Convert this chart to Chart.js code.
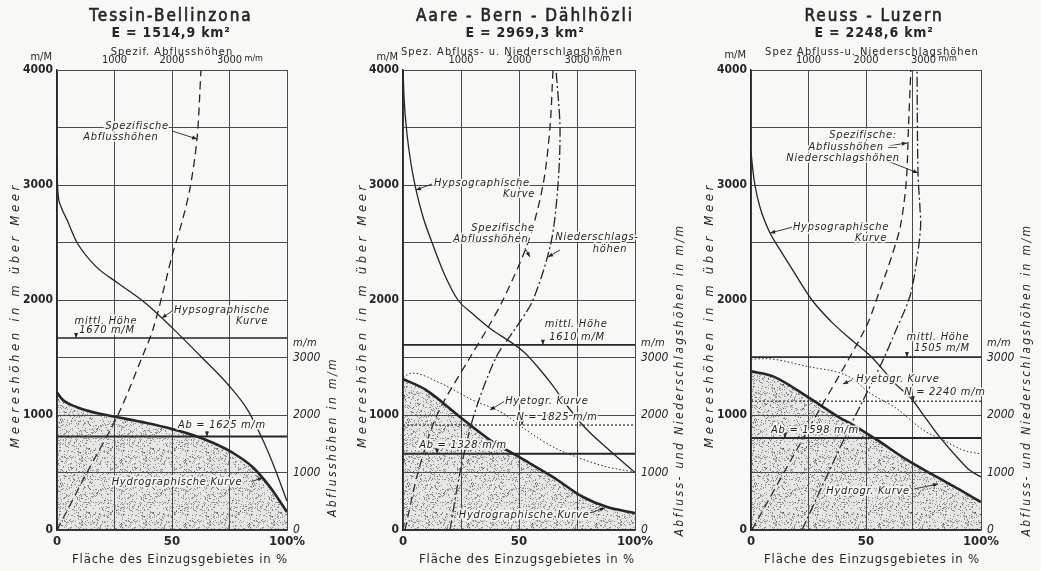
<!DOCTYPE html>
<html>
<head>
<meta charset="utf-8">
<script src="https://cdn.jsdelivr.net/npm/chart.js@4.4.1/dist/chart.umd.min.js"></script>
<style>
  html, body { margin: 0; padding: 0; background: #f8f8f6; }
  #wrap { position: relative; width: 1041px; height: 571px; }
  canvas { position: absolute; top: 0; }
</style>
</head>
<body>
<div id="wrap">
  <canvas id="tessin" width="347" height="571" style="left:0px"></canvas>
  <canvas id="aare" width="347" height="571" style="left:347px"></canvas>
  <canvas id="reuss" width="347" height="571" style="left:694px"></canvas>
</div>
<script>
// ---- Tessin-Bellinzona ----
// hypsographische Kurve: Fläche in % / Höhe in m
const tessinHypsoPct = [0, 0.15, 0.6, 1.6, 4.3, 8.7, 17, 27, 38, 50, 62, 75, 83, 90, 95, 100];
const tessinHypsoM = [3250, 3050, 2900, 2820, 2700, 2500, 2290, 2140, 1980, 1760, 1520, 1250, 1040, 760, 520, 250];
// hydrographische Kurve: Fläche in % / Abflusshöhe in mm
const tessinHydroPct = [0, 2.6, 8.7, 18.7, 27, 39, 50, 59, 68, 76.5, 85, 92.6, 100];
const tessinHydroMm = [2392, 2260, 2136, 2020, 1956, 1860, 1756, 1652, 1512, 1340, 1096, 748, 314];
// spezifische Abflusshöhen: mm / Höhe in m
const tessinSpezMm = [0, 522, 1060, 1478, 1670, 1870, 2000, 2174, 2313, 2435, 2504];
const tessinSpezM = [0, 500, 1000, 1500, 1747, 2120, 2384, 2680, 2970, 3400, 4000];
const tessinMittl = 1670;
const tessinAb = 1625;

// ---- Aare-Bern-Dählhölzli ----
const aareHypsoPct = [0, 0.5, 1.7, 3.5, 5.6, 8.5, 12.5, 17.5, 23.7, 30, 38, 46, 52, 58, 64, 70, 78, 88, 100];
const aareHypsoM = [4000, 3740, 3450, 3180, 2960, 2730, 2500, 2240, 2000, 1880, 1745, 1640, 1550, 1420, 1270, 1100, 900, 710, 500];
const aareHydroPct = [0, 10, 24.6, 37.5, 50, 64.7, 77.6, 88, 100];
const aareHydroMm = [2626, 2434, 1966, 1566, 1270, 920, 574, 400, 296];
const aareHyetoPct = [0, 3.9, 16, 30, 43, 53, 64.7, 76, 88, 100];
const aareHyetoMm = [2654, 2730, 2556, 2260, 2034, 1740, 1444, 1252, 1096, 1008];
const aareSpezMm = [34, 259, 586, 1155, 1450, 1724, 2155, 2414, 2534, 2586];
const aareSpezM = [0, 500, 1000, 1500, 1747, 2000, 2500, 3000, 3500, 4000];
const aareNiedMm = [810, 983, 1224, 1603, 1931, 2241, 2552, 2672, 2707, 2638];
const aareNiedM = [0, 500, 1000, 1500, 1747, 2000, 2500, 3000, 3500, 4000];
const aareMittl = 1610;
const aareAb = 1328;
const aareN = 1825;

// ---- Reuss-Luzern ----
const reussHypsoPct = [0, 0.4, 1.7, 4, 8, 12.5, 17, 26.5, 35, 43, 52.6, 63, 70, 76.5, 82, 89.5, 95, 100];
const reussHypsoM = [3300, 3205, 3000, 2800, 2594, 2440, 2297, 2000, 1810, 1665, 1500, 1266, 1135, 957, 809, 635, 522, 461];
const reussHydroPct = [0, 9.6, 25, 38.7, 43, 54.8, 67.8, 80.8, 90.9, 100];
const reussHydroMm = [2760, 2672, 2306, 1950, 1860, 1566, 1218, 922, 696, 486];
const reussHyetoPct = [0, 6, 24, 43, 51.7, 63, 74.8, 83.5, 92, 100];
const reussHyetoMm = [2970, 2980, 2848, 2660, 2382, 2122, 1740, 1566, 1392, 1322];
const reussSpezMm = [15, 1000, 1983, 2230, 2450, 2600, 2700, 2740, 2780];
const reussSpezM = [0, 880, 1747, 2070, 2384, 2646, 3031, 3520, 4000];
const reussNiedMm = [887, 1426, 1722, 2017, 2278, 2530, 2765, 2887, 2950, 2939, 2904, 2887];
const reussNiedM = [0, 585, 900, 1196, 1458, 1747, 2035, 2358, 2646, 2795, 3110, 4000];
const reussMittl = 1505;
const reussAb = 1598;
const reussN = 2240;

// x grid of the Reuss sheet: the third line is drawn at about 70 %
const reussGridPct = [0, 25, 50, 70, 100];

const ink = '#262626';
const paperColor = 'rgba(248,248,246,0.9)';
const F = "'Liberation Sans Narrow', 'DejaVu Sans Condensed', 'Liberation Sans', sans-serif";

// punktierte Fläche unter der hydrographischen Kurve
function stipple() {
  const c = document.createElement('canvas');
  c.width = c.height = 64;
  const g = c.getContext('2d');
  g.fillStyle = 'rgba(110,110,110,0.13)';
  g.fillRect(0, 0, 64, 64);
  let s = 12345;
  const rnd = () => (s = (s * 16807) % 2147483647) / 2147483647;
  g.fillStyle = 'rgba(40,40,40,0.45)';
  for (let i = 0; i < 750; i++) g.fillRect(Math.floor(rnd() * 64), Math.floor(rnd() * 64), 1, 1);
  return g.createPattern(c, 'repeat');
}
const dots = stipple();

function line(xs, ys, xAxisID, yAxisID, style) {
  return Object.assign({
    data: xs.map((x, i) => ({ x: x, y: ys[i] })),
    xAxisID: xAxisID, yAxisID: yAxisID,
    borderColor: ink, borderWidth: 1.3, pointRadius: 0, fill: false, tension: 0.3
  }, style || {});
}
const hypso = (xs, ys) => line(xs, ys, 'x', 'y', { borderWidth: 1.3, cubicInterpolationMode: 'monotone' });
const hydro = (xs, ys) => line(xs, ys, 'x', 'y2', { borderWidth: 2.6, fill: 'origin', backgroundColor: dots, cubicInterpolationMode: 'monotone' });
const hyeto = (xs, ys) => line(xs, ys, 'x', 'y2', { borderWidth: 1, borderDash: [1.5, 2.2], cubicInterpolationMode: 'monotone' });
const spez = (xs, ys) => line(xs, ys, 'x2', 'y', { borderDash: [8, 5] });
const nied = (xs, ys) => line(xs, ys, 'x2', 'y', { borderDash: [10, 3, 2, 3] });
const level = (v, axis, style) => line([0, 100], [v, v], 'x', axis, Object.assign({ tension: 0 }, style));

function arrow(ctx, x1, y1, x2, y2) {
  ctx.beginPath(); ctx.moveTo(x1, y1); ctx.lineTo(x2, y2); ctx.lineWidth = 0.9; ctx.stroke();
  const a = Math.atan2(y2 - y1, x2 - x1), L = 5, W = 2;
  ctx.beginPath();
  ctx.moveTo(x2, y2);
  ctx.lineTo(x2 - L * Math.cos(a) + W * Math.sin(a), y2 - L * Math.sin(a) - W * Math.cos(a));
  ctx.lineTo(x2 - L * Math.cos(a) - W * Math.sin(a), y2 - L * Math.sin(a) + W * Math.cos(a));
  ctx.closePath(); ctx.fill();
}

// Beschriftung: Titel, Achsentitel und Hinweise
const paper = {
  id: 'paper',
  afterDraw(chart, args, o) {
    const { ctx, chartArea: a, scales: s } = chart;
    const px = v => s.x.getPixelForValue(v), py = v => s.y.getPixelForValue(v);
    const txt = (t, x, y, font, align, sp, halo) => {
      ctx.font = font; ctx.letterSpacing = sp || '0px';
      ctx.textAlign = align || 'center'; ctx.textBaseline = 'middle';
      if (halo) {
        ctx.save(); ctx.strokeStyle = paperColor; ctx.lineWidth = 3.5; ctx.lineJoin = 'round';
        ctx.strokeText(t, x, y); ctx.restore();
      }
      ctx.fillText(t, x, y);
    };
    ctx.save();
    ctx.fillStyle = ink; ctx.strokeStyle = ink;
    // title: regular face, slightly thickened like the pen lettering
    txt(o.title, o.cx, 17, '17px ' + F, 'center', '2px');
    ctx.lineWidth = 0.6; ctx.strokeText(o.title, o.cx, 17);
    txt(o.sub, o.cx, 33, 'bold 14px ' + F, 'center', '0.8px');
    txt(o.top, o.topX, 52, '11px ' + F, 'center', '1px');
    txt('m/M', a.left - 5, o.mY, '11px ' + F, 'right');
    txt('m/m', s.x2.getPixelForValue(3000) + 15, 59, '9px ' + F, 'left');
    txt('m/m', a.right + 6, py(1626), 'italic 11px ' + F, 'left', '0.5px');
    txt('Fläche des Einzugsgebietes in %', o.botX, 560, '13px ' + F, 'center', '0.8px');
    ctx.save(); ctx.translate(16, 315); ctx.rotate(-Math.PI / 2);
    txt('Meereshöhen in m über Meer', 0, 0, 'italic 13px ' + F, 'center', '3.6px');
    ctx.restore();
    ctx.save(); ctx.translate(333, o.rightY); ctx.rotate(-Math.PI / 2);
    txt(o.right, 0, 0, 'italic 12px ' + F, 'center', '2.4px');
    ctx.restore();
    o.arrows.forEach(r => arrow(ctx, px(r[0]), py(r[1]), px(r[2]), py(r[3])));
    o.notes.forEach(n => txt(n[0], px(n[1]), py(n[2]), 'italic 11px ' + F, 'center', '0.7px', true));
    ctx.restore();
  }
};

function sheet(id, datasets, text, xTicks) {
  const left = text.left, right = 347 - text.rightEdge;
  new Chart(document.getElementById(id), {
    type: 'line',
    data: { datasets: datasets },
    plugins: [paper],
    options: {
      responsive: false, animation: false, devicePixelRatio: 1,
      layout: { padding: 0 },
      plugins: { legend: { display: false }, tooltip: { enabled: false }, paper: text },
      scales: {
        x: {
          type: 'linear', position: 'bottom', min: 0, max: 100,
          afterFit: sc => { sc.height = 41; },
          afterBuildTicks: sc => { if (xTicks) sc.ticks = xTicks.map(v => ({ value: v })); },
          ticks: {
            stepSize: 25, autoSkip: false, maxRotation: 0, padding: 4, color: ink,
            font: { family: F, size: 13, weight: 'bold' },
            callback: v => v === 0 ? '0' : v === 50 ? '50' : v === 100 ? '100%' : ''
          },
          grid: { color: '#4a4a4a', lineWidth: 1, drawTicks: false },
          border: { color: ink, width: 1.4 }
        },
        x2: {
          type: 'linear', position: 'top', min: 0, max: 4000,
          afterFit: sc => { sc.height = 70; },
          ticks: {
            stepSize: 1000, autoSkip: false, maxRotation: 0, padding: 3, color: ink,
            font: { family: F, size: 11 },
            callback: v => (v === 1000 || v === 2000 || v === 3000) ? String(v) : ''
          },
          grid: { display: false, drawTicks: false },
          border: { display: false }
        },
        y: {
          type: 'linear', position: 'left', min: 0, max: 4000,
          afterFit: sc => { sc.width = left; },
          ticks: {
            stepSize: 500, autoSkip: false, padding: 4, color: ink,
            font: { family: F, size: 12, weight: 'bold' },
            callback: v => v % 1000 === 0 ? String(v) : ''
          },
          grid: { color: '#4a4a4a', lineWidth: 1, drawTicks: false },
          border: { color: ink, width: 1.4 }
        },
        y2: {
          type: 'linear', position: 'right', min: 0, max: 8000,
          afterFit: sc => { sc.width = right; },
          ticks: {
            stepSize: 1000, autoSkip: false, padding: 6, color: ink,
            font: { family: F, size: 12, style: 'italic' },
            callback: v => v <= 3000 ? String(v) : ''
          },
          grid: { display: false, drawTicks: false },
          border: { display: false }
        }
      }
    }
  });
}

sheet('tessin', [
  hydro(tessinHydroPct, tessinHydroMm),
  hypso(tessinHypsoPct, tessinHypsoM),
  spez(tessinSpezMm, tessinSpezM),
  level(tessinMittl, 'y', { borderWidth: 1.6 }),
  level(tessinAb, 'y2', { borderWidth: 2 })
], {
  left: 57, rightEdge: 287, cx: 171, topX: 172, botX: 180, mY: 57, rightY: 437,
  title: 'Tessin-Bellinzona', sub: 'E = 1514,9 km²', top: 'Spezif. Abflusshöhen',
  right: 'Abflusshöhen in m/m',
  notes: [
    ['Spezifische', 34.8, 3513], ['Abflusshöhen', 27.8, 3417],
    ['Hypsographische', 71.7, 1913], ['Kurve', 84.8, 1817],
    ['mittl. Höhe', 21.3, 1817], ['1670 m/M', 21.7, 1739],
    ['Ab = 1625 m/m', 71.7, 913], ['Hydrographische Kurve', 52.2, 417]
  ],
  arrows: [
    [50, 3470, 60.9, 3400], [50, 1904, 45.6, 1843], [8.3, 1713, 8.3, 1670],
    [65.2, 861, 65.2, 812], [84.5, 420, 89.5, 455]
  ]
});

sheet('aare', [
  hydro(aareHydroPct, aareHydroMm),
  hyeto(aareHyetoPct, aareHyetoMm),
  hypso(aareHypsoPct, aareHypsoM),
  spez(aareSpezMm, aareSpezM),
  nied(aareNiedMm, aareNiedM),
  level(aareMittl, 'y', { borderWidth: 1.6 }),
  level(aareAb, 'y2', { borderWidth: 2 }),
  level(aareN, 'y2', { borderWidth: 1.2, borderDash: [2, 2] })
], {
  left: 56, rightEdge: 288, cx: 178, topX: 165, botX: 180, mY: 57, rightY: 380,
  title: 'Aare - Bern - Dählhözli', sub: 'E = 2969,3 km²', top: 'Spez. Abfluss- u. Niederschlagshöhen',
  right: 'Abfluss- und Niederschlagshöhen in m/m',
  notes: [
    ['Hypsographische', 34, 3017], ['Kurve', 50, 2922],
    ['Spezifische', 43.1, 2626], ['Abflusshöhen', 37.9, 2530],
    ['Niederschlags-', 83.6, 2548], ['höhen', 89.2, 2443],
    ['mittl. Höhe', 74.6, 1791], ['1610 m/M', 75, 1678],
    ['Hyetogr. Kurve', 62, 1122], ['N = 1825 m/m', 66.4, 983],
    ['Ab = 1328 m/m', 25.9, 740], ['Hydrographische Kurve', 52.2, 130]
  ],
  arrows: [
    [12.5, 3009, 5.6, 2956], [52.6, 2452, 54.7, 2374], [67.7, 2435, 62.5, 2374],
    [60.3, 1652, 60.3, 1610], [44, 1122, 37.5, 1043], [51.3, 965, 51.3, 912],
    [14.7, 696, 14.7, 664], [80.6, 148, 87, 191]
  ]
});

sheet('reuss', [
  hydro(reussHydroPct, reussHydroMm),
  hyeto(reussHyetoPct, reussHyetoMm),
  hypso(reussHypsoPct, reussHypsoM),
  spez(reussSpezMm, reussSpezM),
  nied(reussNiedMm, reussNiedM),
  level(reussMittl, 'y', { borderWidth: 1.6 }),
  level(reussAb, 'y2', { borderWidth: 2 }),
  level(reussN, 'y2', { borderWidth: 1.2, borderDash: [2, 2] })
], {
  left: 57, rightEdge: 287, cx: 180, topX: 178, botX: 178, mY: 55, rightY: 380,
  title: 'Reuss - Luzern', sub: 'E = 2248,6 km²', top: 'Spez Abfluss-u. Niederschlagshöhen',
  right: 'Abfluss- und Niederschlagshöhen in m/m',
  notes: [
    ['Spezifische:', 48.7, 3435], ['Abflusshöhen —', 44.5, 3330], ['Niederschlagshöhen', 40, 3235],
    ['Hypsographische', 39.1, 2635], ['Kurve', 52.2, 2540],
    ['mittl. Höhe', 81.3, 1678], ['1505 m/M', 83, 1583],
    ['Hyetogr. Kurve', 63.9, 1313], ['N = 2240 m/m', 84.3, 1200],
    ['Ab = 1598 m/m', 27.8, 870], ['Hydrogr. Kurve', 50.9, 339]
  ],
  arrows: [
    [60, 3340, 67.8, 3365], [58.3, 3217, 72.6, 3104], [18.3, 2635, 8.3, 2583],
    [67.8, 1548, 67.8, 1505], [43.9, 1304, 40, 1270], [70.4, 1165, 70.4, 1120],
    [14.8, 835, 14.8, 799], [70.9, 357, 81.3, 400]
  ]
}, reussGridPct);
</script>
</body>
</html>
